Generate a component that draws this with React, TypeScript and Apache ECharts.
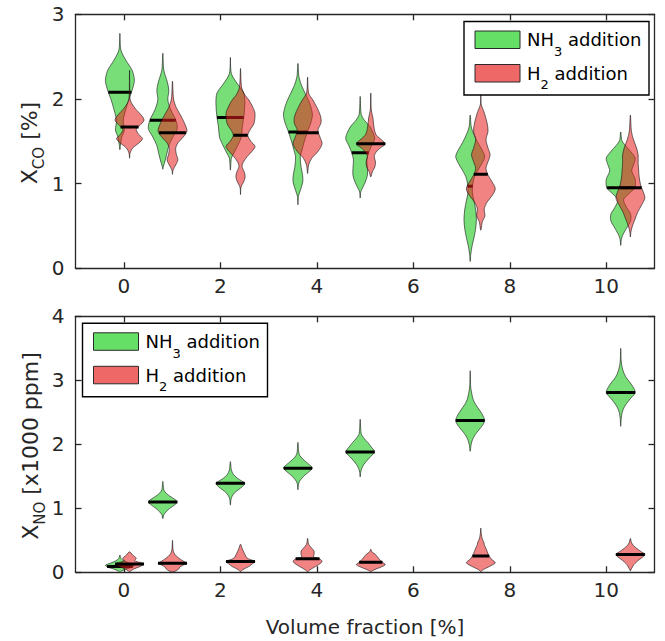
import React, { useEffect, useRef } from "react";
import * as echarts from "echarts";

// ---------- data ----------
const X_TICKS = [0, 2, 4, 6, 8, 10];
const CO_TICKS = [0, 1, 2, 3];
const NO_TICKS = [0, 1, 2, 3, 4];

const NH3_POS = [-0.08, 0.81, 2.21, 3.61, 4.9, 7.18, 10.3];
const H2_POS = [0.12, 1.01, 2.42, 3.81, 5.12, 7.4, 10.5];

// medians
const CO_NH3_MEDIAN = [2.08, 1.75, 1.78, 1.61, 1.365, 0.97, 0.95];
const CO_H2_MEDIAN = [1.67, 1.6, 1.57, 1.6, 1.47, 1.11, 0.95];
const NO_NH3_MEDIAN = [0.09, 1.1, 1.39, 1.625, 1.88, 2.37, 2.81];
const NO_H2_MEDIAN = [0.13, 0.14, 0.17, 0.21, 0.156, 0.255, 0.28];

// violin profiles: [value, relative density], from max value to min value
const CO_NH3_VIOLINS = [
  [[2.775, 0], [2.58, 1], [2.46, 6], [2.34, 12.5], [2.22, 14.9], [2.1, 12.5], [1.99, 9], [1.87, 6], [1.75, 3.5], [1.63, 4.5], [1.55, 2], [1.45, 0.5], [1.4, 0]],
  [[2.54, 0], [2.34, 1], [2.2, 4.5], [2.1, 6], [1.99, 5], [1.87, 8], [1.75, 13], [1.65, 14.5], [1.55, 10], [1.45, 6], [1.35, 4], [1.28, 2.5], [1.2, 0.5], [1.17, 0]],
  [[2.49, 0], [2.3, 1], [2.18, 7], [2.07, 13.5], [1.95, 14.6], [1.79, 13.6], [1.67, 12], [1.55, 11], [1.44, 7], [1.36, 3.5], [1.3, 1], [1.16, 0]],
  [[2.42, 0], [2.26, 1], [2.16, 3.5], [2.1, 5.7], [1.95, 11.3], [1.82, 14], [1.72, 12.5], [1.63, 9.7], [1.55, 7.5], [1.48, 5.7], [1.4, 4], [1.32, 2.3], [1.2, 3], [1.1, 4.5], [1.02, 4.7], [0.92, 2.3], [0.85, 0.5], [0.75, 0]],
  [[2.03, 0], [1.82, 1], [1.75, 4], [1.68, 9], [1.6, 12.5], [1.53, 14], [1.45, 11], [1.36, 8], [1.28, 6.5], [1.18, 7], [1.1, 7], [1.02, 5], [0.96, 2.7], [0.9, 0.5], [0.83, 0]],
  [[1.81, 0], [1.67, 1], [1.58, 3.5], [1.48, 7.3], [1.4, 11], [1.32, 13.5], [1.24, 11], [1.16, 7.3], [1.08, 4], [1.0, 2.5], [0.9, 2], [0.8, 3.5], [0.7, 5], [0.58, 5.8], [0.46, 5], [0.36, 3.5], [0.26, 1.7], [0.16, 0.5], [0.08, 0]],
  [[1.61, 0], [1.51, 1], [1.45, 4], [1.38, 8.5], [1.3, 12.5], [1.22, 11], [1.15, 9.5], [1.05, 12.5], [0.95, 12], [0.88, 7], [0.81, 2.5], [0.72, 5], [0.64, 8.5], [0.56, 8.5], [0.49, 5.7], [0.4, 2], [0.34, 0.5], [0.27, 0]],
];
const CO_H2_VIOLINS = [
  [[2.34, 0], [2.0, 0.5], [1.95, 2], [1.88, 6], [1.8, 12], [1.75, 14], [1.7, 11], [1.64, 6.5], [1.58, 9], [1.53, 12.5], [1.48, 9], [1.42, 3], [1.36, 0.5], [1.3, 0]],
  [[2.21, 0], [2.0, 1], [1.9, 3.5], [1.82, 7], [1.72, 11], [1.62, 13.5], [1.55, 10], [1.48, 5], [1.42, 3], [1.35, 3.5], [1.28, 5], [1.22, 3], [1.16, 0.5], [1.11, 0]],
  [[2.36, 0], [2.14, 1], [2.05, 4], [1.99, 8], [1.9, 12], [1.83, 14], [1.71, 13], [1.63, 9], [1.57, 7], [1.5, 10], [1.44, 14], [1.38, 11], [1.32, 6.5], [1.25, 2.5], [1.2, 1.5], [1.14, 3.5], [1.08, 4.5], [1.02, 3], [0.96, 0.5], [0.87, 0]],
  [[2.26, 0], [2.07, 1], [1.99, 5], [1.9, 9], [1.8, 12.5], [1.72, 13], [1.63, 10], [1.55, 12], [1.47, 14], [1.38, 10], [1.3, 4], [1.22, 1], [1.12, 0]],
  [[2.07, 0], [1.87, 0.5], [1.78, 2], [1.65, 3.3], [1.58, 5], [1.53, 9], [1.47, 14], [1.42, 9], [1.37, 5], [1.32, 3.3], [1.26, 4.5], [1.2, 4], [1.14, 1.5], [1.08, 0]],
  [[2.05, 0], [1.93, 0.5], [1.85, 3], [1.72, 6], [1.62, 7], [1.52, 5], [1.42, 7], [1.34, 9], [1.26, 7], [1.18, 5], [1.1, 7], [1.02, 11], [0.94, 14], [0.86, 11], [0.78, 6], [0.7, 3.3], [0.62, 4], [0.55, 1.5], [0.45, 0]],
  [[1.81, 0], [1.62, 1], [1.52, 3], [1.42, 6], [1.34, 7.5], [1.25, 7.5], [1.16, 8], [1.08, 8.5], [0.98, 10], [0.9, 12.5], [0.83, 14], [0.75, 11], [0.66, 7], [0.58, 4.5], [0.5, 2], [0.43, 0.5], [0.37, 0]],
];
const NO_NH3_VIOLINS = [
  [[0.27, 0], [0.22, 1], [0.18, 4], [0.14, 10], [0.11, 14.5], [0.08, 12], [0.05, 6], [0.02, 1.5], [0.0, 0]],
  [[1.42, 0], [1.29, 1], [1.24, 3], [1.19, 7], [1.14, 12], [1.1, 14.5], [1.05, 11.5], [1.0, 7], [0.95, 3.5], [0.9, 1], [0.84, 0]],
  [[1.73, 0], [1.6, 1], [1.53, 3], [1.47, 7], [1.42, 12], [1.39, 14.5], [1.34, 12], [1.29, 8], [1.24, 4], [1.18, 1.5], [1.13, 0.5], [1.05, 0]],
  [[2.03, 0], [1.86, 1], [1.8, 3], [1.74, 7], [1.68, 11.5], [1.63, 14.5], [1.57, 11], [1.52, 7], [1.47, 4], [1.42, 1.5], [1.37, 0.5], [1.29, 0]],
  [[2.39, 0], [2.17, 1], [2.1, 3.5], [2.03, 7.5], [1.96, 11], [1.88, 14.5], [1.81, 10.5], [1.74, 6.5], [1.68, 3.5], [1.62, 1.5], [1.56, 0.5], [1.49, 0]],
  [[3.15, 0], [2.9, 0.5], [2.8, 1.5], [2.7, 3], [2.62, 5.5], [2.52, 10], [2.44, 13], [2.37, 14.5], [2.3, 12.5], [2.22, 8.5], [2.15, 5], [2.07, 2.3], [2.0, 1], [1.89, 0]],
  [[3.5, 0], [3.3, 0.5], [3.2, 1.5], [3.1, 3.5], [3.02, 6.5], [2.93, 11], [2.81, 14.5], [2.72, 10], [2.65, 6.5], [2.58, 3.5], [2.5, 1.5], [2.4, 0.5], [2.28, 0]],
];
const NO_H2_VIOLINS = [
  [[0.32, 0], [0.27, 3], [0.22, 6.5], [0.18, 5], [0.15, 11], [0.13, 14], [0.09, 10], [0.05, 4], [0.02, 1], [0.005, 0]],
  [[0.5, 0], [0.36, 0.5], [0.3, 1.5], [0.25, 4], [0.2, 8], [0.16, 12], [0.14, 14], [0.11, 10], [0.08, 7], [0.05, 6], [0.02, 3], [0.005, 0]],
  [[0.44, 0], [0.375, 1.5], [0.32, 3], [0.27, 4.5], [0.22, 6.5], [0.17, 14], [0.14, 12], [0.09, 8], [0.04, 2], [0.01, 0]],
  [[0.53, 0], [0.44, 1], [0.38, 4], [0.33, 6.5], [0.28, 6.5], [0.24, 6], [0.21, 12], [0.17, 14.5], [0.13, 12], [0.09, 8], [0.05, 3.5], [0.02, 1], [0.005, 0]],
  [[0.36, 0], [0.32, 1], [0.28, 4.5], [0.24, 6.5], [0.2, 8.5], [0.16, 11], [0.12, 14], [0.09, 11], [0.06, 6.5], [0.03, 2], [0.01, 0]],
  [[0.69, 0], [0.6, 0.5], [0.52, 1.5], [0.47, 3], [0.43, 3.5], [0.38, 5], [0.32, 6.5], [0.28, 7.5], [0.24, 9], [0.2, 11], [0.15, 14.5], [0.11, 11], [0.07, 6], [0.04, 2], [0.01, 0]],
  [[0.53, 0], [0.47, 1], [0.42, 3], [0.37, 6.5], [0.32, 11], [0.28, 14.5], [0.24, 12.5], [0.2, 9], [0.16, 6], [0.12, 3.5], [0.08, 2], [0.04, 0.5], [0.02, 0]],
];

const NH3_NAME = "NH3 addition";
const H2_NAME = "H2 addition";

// ---------- styles ----------
const FONT = "DejaVu Sans";
const AXIS_COLOR = "#262626";
const HALF = 0.3;
const GREEN_FILL = "rgba(30,200,30,0.6)";
const RED_FILL = "rgba(230,30,30,0.55)";
const GREEN_SWATCH = "#66DF66";
const RED_SWATCH = "#EE6868";

function densityAt(profile: number[][], m: number) {
  for (let k = 0; k < profile.length - 1; k++) {
    const [y1, d1] = profile[k];
    const [y2, d2] = profile[k + 1];
    if (m <= y1 && m >= y2) {
      const t = (y1 - m) / (y1 - y2 || 1);
      return d1 + t * (d2 - d1);
    }
  }
  return 0;
}

function violinSeries(name: string, grid: number, positions: number[], medians: number[], profiles: number[][][], fill: string) {
  return {
    type: "custom",
    name,
    xAxisIndex: grid * 2,
    yAxisIndex: grid * 2,
    data: positions.map((p, i) => [p, medians[i]]),
    encode: { x: 0, y: 1 },
    clip: true,
    silent: true,
    itemStyle: { color: fill },
    renderItem: (params: any, api: any) => {
      const i = params.dataIndex;
      const cx = api.value(0);
      const med = api.value(1);
      const prof = profiles[i];
      const maxD = Math.max(...prof.map((p) => p[1]));
      const w = (d: number) => (d / maxD) * HALF;
      const pts: number[][] = prof.map(([y, d]) => api.coord([cx + w(d), y]));
      for (let k = prof.length - 1; k >= 0; k--) {
        const [y, d] = prof[k];
        if (d > 0) pts.push(api.coord([cx - w(d), y]));
      }
      const mw = w(densityAt(prof, med));
      const ml = api.coord([cx - mw, med]);
      const mr = api.coord([cx + mw, med]);
      return {
        type: "group",
        children: [
          { type: "polygon", shape: { points: pts, smooth: 0.3 }, style: { fill, stroke: "rgba(20,20,20,0.8)", lineWidth: 0.75 } },
          { type: "line", shape: { x1: ml[0], y1: ml[1], x2: mr[0], y2: mr[1] }, style: { stroke: "#000", lineWidth: 3 } },
        ],
      };
    },
  };
}

const lineStyle = { color: AXIS_COLOR, width: 1.3 };

function xAxes(grid: number) {
  const base = {
    gridIndex: grid,
    type: "value",
    min: -1,
    max: 11,
    splitLine: { show: false },
    axisLine: { show: true, onZero: false, lineStyle },
    axisTick: { show: true, inside: true, length: 6, customValues: X_TICKS, lineStyle },
  };
  return [
    { ...base, position: "bottom", axisLabel: { show: true, customValues: X_TICKS, fontSize: 20, fontFamily: FONT, color: AXIS_COLOR, margin: 8 } },
    { ...base, position: "top", axisLabel: { show: false } },
  ];
}

function yAxes(grid: number, max: number, ticks: number[]) {
  const base = {
    gridIndex: grid,
    type: "value",
    min: 0,
    max,
    splitLine: { show: false },
    axisLine: { show: true, onZero: false, lineStyle },
    axisTick: { show: true, inside: true, length: 6, customValues: ticks, lineStyle },
  };
  return [
    { ...base, position: "left", axisLabel: { show: true, customValues: ticks, fontSize: 20, fontFamily: FONT, color: AXIS_COLOR, margin: 11 } },
    { ...base, position: "right", axisLabel: { show: false } },
  ];
}

const legendRich = {
  m: { fontSize: 18, fontFamily: FONT, fill: "#000", color: "#000", lineHeight: 36 },
  s: { fontSize: 13, fontFamily: FONT, fill: "#000", color: "#000", lineHeight: 15, verticalAlign: "bottom" },
};

function legendGraphic(x0: number, y0: number) {
  return [
    { type: "rect", z: 100, shape: { x: x0, y: y0, width: 185, height: 73.5 }, style: { fill: "#fff", stroke: "#000", lineWidth: 1.4 } },
    { type: "rect", z: 101, shape: { x: x0 + 11, y: y0 + 9.5, width: 45, height: 17.5 }, style: { fill: GREEN_SWATCH, stroke: "#2a2a2a", lineWidth: 1 } },
    { type: "rect", z: 101, shape: { x: x0 + 11, y: y0 + 43, width: 45, height: 17.5 }, style: { fill: RED_SWATCH, stroke: "#2a2a2a", lineWidth: 1 } },
    { type: "text", z: 101, x: x0 + 63, y: y0 + 18.2, style: { text: "{m|NH}{s|3}{m| addition}", rich: legendRich, align: "left", verticalAlign: "middle" } },
    { type: "text", z: 101, x: x0 + 63, y: y0 + 51.7, style: { text: "{m|H}{s|2}{m| addition}", rich: legendRich, align: "left", verticalAlign: "middle" } },
  ];
}

const labelRich = {
  m: { fontSize: 22, fontFamily: FONT, fill: AXIS_COLOR, color: AXIS_COLOR, lineHeight: 34 },
  s: { fontSize: 15, fontFamily: FONT, fill: AXIS_COLOR, color: AXIS_COLOR, lineHeight: 16, verticalAlign: "bottom" },
};

export default function App() {
  const ref = useRef<HTMLDivElement>(null);
  useEffect(() => {
    if (!ref.current) return;
    const chart = echarts.init(ref.current, null, { renderer: "svg" });
    chart.setOption({
      animation: false,
      backgroundColor: "#fff",
      grid: [
        { left: 75.5, top: 14.3, width: 579, height: 254, containLabel: false, outerBoundsMode: "none" },
        { left: 75.5, top: 316.3, width: 579, height: 256, containLabel: false, outerBoundsMode: "none" },
      ],
      xAxis: [...xAxes(0), ...xAxes(1)],
      yAxis: [...yAxes(0, 3, CO_TICKS), ...yAxes(1, 4, NO_TICKS)],
      series: [
        violinSeries(NH3_NAME, 0, NH3_POS, CO_NH3_MEDIAN, CO_NH3_VIOLINS, GREEN_FILL),
        violinSeries(H2_NAME, 0, H2_POS, CO_H2_MEDIAN, CO_H2_VIOLINS, RED_FILL),
        violinSeries(NH3_NAME, 1, NH3_POS, NO_NH3_MEDIAN, NO_NH3_VIOLINS, GREEN_FILL),
        violinSeries(H2_NAME, 1, H2_POS, NO_H2_MEDIAN, NO_H2_VIOLINS, RED_FILL),
      ],
      graphic: [
        ...legendGraphic(464, 21.5),
        ...legendGraphic(82.5, 323.3),
        { type: "text", x: 29, y: 143, rotation: Math.PI / 2, style: { text: "{m|X}{s|CO}{m| [%]}", rich: labelRich, align: "center", verticalAlign: "middle" } },
        { type: "text", x: 30, y: 446, rotation: Math.PI / 2, style: { text: "{m|X}{s|NO}{m| [x1000 ppm]}", rich: labelRich, align: "center", verticalAlign: "middle" } },
        { type: "text", x: 365, y: 626.5, style: { text: "Volume fraction [%]", fontSize: 20, fontFamily: FONT, fill: AXIS_COLOR, align: "center", verticalAlign: "middle" } },
      ],
    });
    return () => chart.dispose();
  }, []);
  return <div ref={ref} style={{ position: "absolute", left: 0, top: 0, width: 665, height: 641, background: "#fff" }} />;
}
